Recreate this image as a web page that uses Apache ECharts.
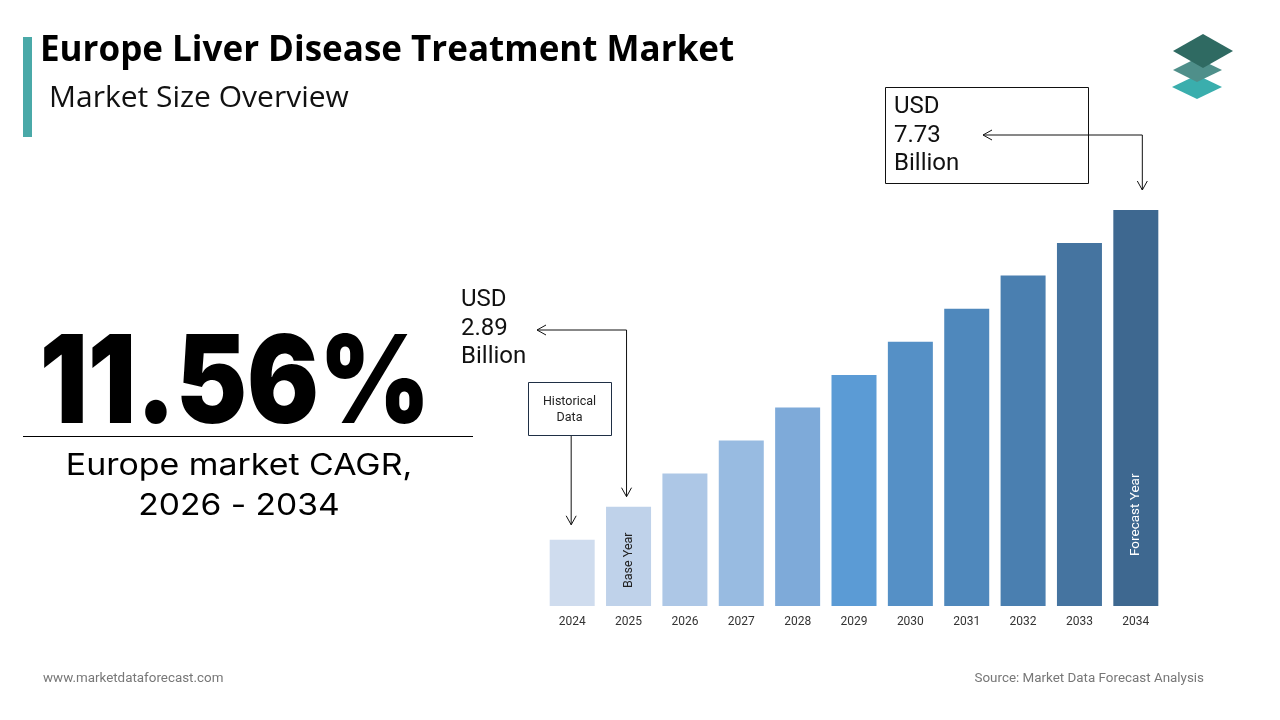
<!DOCTYPE html>
<html>
<head>
<meta charset="utf-8">
<script src="https://cdn.jsdelivr.net/npm/echarts@6/dist/echarts.min.js"></script>
<style>html,body{margin:0;padding:0;background:#fff;}#c{width:1280px;height:720px;}</style>
</head>
<body>
<div id="c"></div>
<script>
const years = ['2024','2025','2026','2027','2028','2029','2030','2031','2032','2033','2034'];
const marketSize = [2.35, 2.89, 3.43, 3.97, 4.51, 5.04, 5.58, 6.12, 6.66, 7.19, 7.73];
const barColors = ['#cfdcee','#bfd2ea','#adc7e6','#98bbe1','#7eaad9','#5b9bd5','#5590c6','#4f88bc','#4a7fb0','#4574a0','#3e6890'];
const barNotes = {'2025': 'Base Year', '2034': 'Forecast Year'};

const chart = echarts.init(document.getElementById('c'), null, {renderer: 'canvas'});

const seriesData = marketSize.map((v, i) => {
  const item = {value: v, itemStyle: {color: barColors[i]}};
  const note = barNotes[years[i]];
  if (note) {
    const isBase = years[i] === '2025';
    item.label = {
      show: true, formatter: note, rotate: 90, position: 'insideBottom',
      distance: isBase ? 18 : 50, align: 'left', verticalAlign: 'middle',
      color: isBase ? '#222' : '#ffffff', fontSize: isBase ? 12.5 : 13.5, fontFamily: 'Roboto'
    };
  }
  return item;
});

chart.setOption({
  backgroundColor: '#ffffff',
  animation: false,
  grid: {left: 544, right: 116, top: 210, bottom: 114},
  xAxis: {
    type: 'category', data: years,
    axisLine: {show: false}, axisTick: {show: false},
    axisLabel: {color: '#333', fontSize: 12, fontFamily: 'Roboto', margin: 10}
  },
  yAxis: {type: 'value', min: 1.27, max: 7.73, show: false, splitLine: {show: false}},
  series: [{type: 'bar', data: seriesData, barWidth: 45, label: {show: false}}]
});

const p24 = chart.convertToPixel({seriesIndex: 0}, [years[0], marketSize[0]]);
const p25 = chart.convertToPixel({seriesIndex: 0}, [years[1], marketSize[1]]);
const p34 = chart.convertToPixel({seriesIndex: 0}, [years[10], marketSize[10]]);

const ln = {stroke: '#111', lineWidth: 1, fill: null};
function line(points) { return {type: 'polyline', shape: {points: points}, style: ln, silent: true}; }
function headDown(x, y) { return line([[x - 5, y - 9], [x, y], [x + 5, y - 9]]); }
function headLeft(x, y) { return line([[x + 9, y - 5], [x, y], [x + 9, y + 5]]); }

const a1x = p24[0] - 1, a1y = p24[1] - 15;
const a2x = p25[0] - 2, a2y = p25[1] - 10;
const a3x = p34[0] + 6.5, a3y = p34[1] - 20;

const graphics = [
  {type: 'rect', shape: {x: 23, y: 37, width: 9, height: 100}, style: {fill: '#4aa9a8'}},
  {type: 'text', x: 40, y: 51, style: {text: 'Europe Liver Disease Treatment Market', font: 'bold 35px "Open Sans"', fill: '#000', verticalAlign: 'middle'}},
  {type: 'text', x: 49, y: 98, style: {text: 'Market Size Overview', font: '30px "Open Sans"', fill: '#111', verticalAlign: 'middle'}},
  // logo
  {type: 'polygon', shape: {points: [[1172, 87], [1197, 75], [1222, 87], [1197, 99]]}, style: {fill: '#3aaead'}},
  {type: 'polygon', shape: {points: [[1173, 70], [1197, 58], [1222, 70], [1197, 82]]}, style: {fill: '#4f8f8a'}},
  {type: 'polygon', shape: {points: [[1173, 51], [1203, 34], [1233, 51], [1203, 68]]}, style: {fill: '#2f6a62'}},
  // big number
  {type: 'text', x: 235, y: 386, style: {text: '11.56%', font: '900 122px Inter', fill: '#000', align: 'center', verticalAlign: 'middle'}, scaleX: 0.875},
  {type: 'line', shape: {x1: 23, y1: 436.5, x2: 473, y2: 436.5}, style: {stroke: '#000', lineWidth: 1}},
  {type: 'text', x: 239, y: 466, style: {text: 'Europe market CAGR,', font: '30px Inter', fill: '#000', align: 'center', verticalAlign: 'middle'}, scaleX: 1.13},
  {type: 'text', x: 239, y: 506, style: {text: '2026 - 2034', font: '30px Inter', fill: '#000', align: 'center', verticalAlign: 'middle'}, scaleX: 1.12},
  // footer
  {type: 'text', x: 43, y: 679, style: {text: 'www.marketdataforecast.com', font: '13.4px Roboto', fill: '#777', verticalAlign: 'middle'}},
  {type: 'text', x: 1204, y: 679, style: {text: 'Source: Market Data Forecast Analysis', font: '13.4px Roboto', fill: '#777', align: 'right', verticalAlign: 'middle'}},
  // annotation: historical data
  {type: 'rect', shape: {x: 528.5, y: 382.5, width: 83, height: 53}, style: {fill: '#fff', stroke: '#1f2f45', lineWidth: 1}},
  {type: 'text', x: 569.5, y: 402, style: {text: 'Historical', font: '12.5px Roboto', fill: '#222', align: 'center', verticalAlign: 'middle'}},
  {type: 'text', x: 569.5, y: 418, style: {text: 'Data', font: '12.5px Roboto', fill: '#222', align: 'center', verticalAlign: 'middle'}},
  line([[a1x, 436], [a1x, a1y]]),
  headDown(a1x, a1y),
  // annotation: 2025 value
  {type: 'text', x: 461, y: 300, style: {text: 'USD', font: '24px Roboto', fill: '#111', verticalAlign: 'middle'}},
  {type: 'text', x: 461, y: 329, style: {text: '2.89', font: '24px Roboto', fill: '#111', verticalAlign: 'middle'}},
  {type: 'text', x: 461, y: 357, style: {text: 'Billion', font: '24px Roboto', fill: '#111', verticalAlign: 'middle'}},
  line([[537, 330], [a2x, 330], [a2x, a2y]]),
  headLeft(537, 330),
  headDown(a2x, a2y),
  // annotation: 2034 value
  {type: 'rect', shape: {x: 885.5, y: 87.5, width: 203, height: 96}, style: {fill: '#fff', stroke: '#111', lineWidth: 1}},
  {type: 'text', x: 894, y: 107, style: {text: 'USD', font: '24px Roboto', fill: '#111', verticalAlign: 'middle'}},
  {type: 'text', x: 894, y: 136, style: {text: '7.73', font: '24px Roboto', fill: '#111', verticalAlign: 'middle'}},
  {type: 'text', x: 894, y: 164, style: {text: 'Billion', font: '24px Roboto', fill: '#111', verticalAlign: 'middle'}},
  line([[983, 135], [a3x, 135], [a3x, a3y]]),
  headLeft(983, 135),
  headDown(a3x, a3y)
];

chart.setOption({graphic: graphics});
</script>
</body>
</html>
